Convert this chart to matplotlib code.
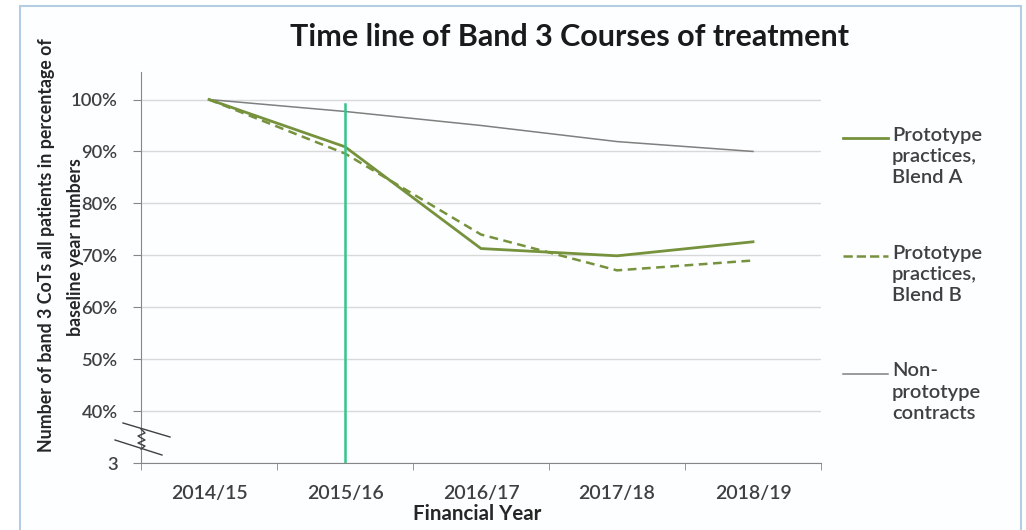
import matplotlib
matplotlib.use("Agg")
import matplotlib.pyplot as plt
from matplotlib.lines import Line2D
from matplotlib.patches import Rectangle

plt.rcParams['font.family'] = ['Lato', 'DejaVu Sans']

years = ['2014/15', '2015/16', '2016/17', '2017/18', '2018/19']
blend_a = [100, 90.9, 71.3, 69.9, 72.6]
blend_b = [100, 89.6, 74.0, 67.1, 69.0]
non_prototype = [100, 97.7, 95.0, 91.9, 90.0]
y_ticks = [30, 40, 50, 60, 70, 80, 90, 100]
y_labels = ['3', '40%', '50%', '60%', '70%', '80%', '90%', '100%']
marker_year = '2015/16'

olive = '#76923c'
grey = '#7f7f7f'
text_col = '#404040'

W, H = 1026, 530
fig = plt.figure(figsize=(W / 100, H / 100), dpi=100)

# light blue frame round the chart area
fig.patches.append(Rectangle((20 / W, -0.05), 1001 / W, 1 - 6 / H + 0.05,
                             transform=fig.transFigure, facecolor='#fdfeff',
                             edgecolor='#b5cde2', linewidth=1.5, zorder=-5))

ax = fig.add_axes([141 / W, 1 - 463 / H, 680 / W, 391 / H], zorder=2)
ax.set_facecolor('none')
x = list(range(len(years)))

ax.plot(x, non_prototype, color=grey, lw=1.1, label='Non-\nprototype\ncontracts', zorder=3)
ax.plot(x, blend_b, color=olive, lw=1.8, ls=(0, (3.5, 2.2)),
        label='Prototype\npractices,\nBlend B', zorder=4)
ax.plot(x, blend_a, color=olive, lw=2.0, label='Prototype\npractices,\nBlend A', zorder=5)

xm = years.index(marker_year)
ax.plot([xm, xm], [30, 99.2], color='#35c48a', lw=1.8, zorder=6)

ax.set_xlim(-0.5, len(years) - 0.5)
ax.set_ylim(30, 105.3)
ax.set_yticks(y_ticks)
ax.set_yticklabels(y_labels)
ax.set_xticks(x)
ax.set_xticklabels(years)
ax.set_xticks([i - 0.5 for i in range(len(years) + 1)], minor=True)
ax.tick_params(axis='x', which='major', length=0, pad=16, labelsize=14, labelcolor=text_col)
ax.tick_params(axis='x', which='minor', length=5, color='#868686', direction='out')
ax.tick_params(axis='y', length=6, color='#868686', pad=10.8, labelsize=13.2, labelcolor=text_col)
for lbl in ax.get_yticklabels() + ax.get_xticklabels():
    lbl.set_fontweight('semibold')

ax.grid(axis='y', color='#d9d9d9', lw=1)
ax.set_axisbelow(True)
for s in ['top', 'right']:
    ax.spines[s].set_visible(False)
ax.spines['left'].set_color('#868686')
ax.spines['bottom'].set_color('#868686')

# axis break marks between 3 and 40%
brk = dict(color='#404040', lw=1, clip_on=False, transform=ax.transAxes, zorder=7)
ax.plot([-18 / 680, 29 / 680], [(463 - 423) / 391, (463 - 437) / 391], **brk)
ax.plot([-26 / 680, 21 / 680], [(463 - 440) / 391, (463 - 455) / 391], **brk)
ax.plot([0, 4 / 680, -3 / 680, 4 / 680, -3 / 680, 4 / 680, 0],
        [(463 - 429) / 391, (463 - 433) / 391, (463 - 436) / 391,
         (463 - 440) / 391, (463 - 443) / 391, (463 - 446) / 391,
         (463 - 449) / 391], **brk)

fig.text(569 / W, 1 - 37 / H, 'Time line of Band 3 Courses of treatment',
         ha='center', va='center', fontsize=22, fontweight='bold', color='#1a1a1a')
fig.text(477 / W, 1 - 514 / H, 'Financial Year', ha='center', va='center',
         fontsize=14.8, fontweight='bold', color='#262626')
fig.text(47 / W, 1 - 245 / H, 'Number of band 3 CoTs all patients in percentage of',
         rotation=90, ha='center', va='center', fontsize=12.8, fontweight='bold', color='#262626')
fig.text(75 / W, 1 - 247 / H, 'baseline year numbers',
         rotation=90, ha='center', va='center', fontsize=12.8, fontweight='bold', color='#262626')

# legend on the right, sample line level with the first text line
handles = {h.get_label(): h for h in ax.get_lines() if not h.get_label().startswith('_')}
order = ['Prototype\npractices,\nBlend A', 'Prototype\npractices,\nBlend B',
         'Non-\nprototype\ncontracts']
rows = [138, 256, 374]
for lab, yy in zip(order, rows):
    h = handles[lab]
    fig.add_artist(Line2D([843 / W, 888 / W], [1 - yy / H, 1 - yy / H],
                          color=h.get_color(), lw=h.get_linewidth(), ls=h.get_linestyle(),
                          transform=fig.transFigure))
    fig.text(892 / W, 1 - (yy - 11.5) / H, lab, ha='left', va='top', fontsize=14.5,
             fontweight='semibold', color=text_col, linespacing=1.3)

fig.savefig('out.png', dpi=100)
